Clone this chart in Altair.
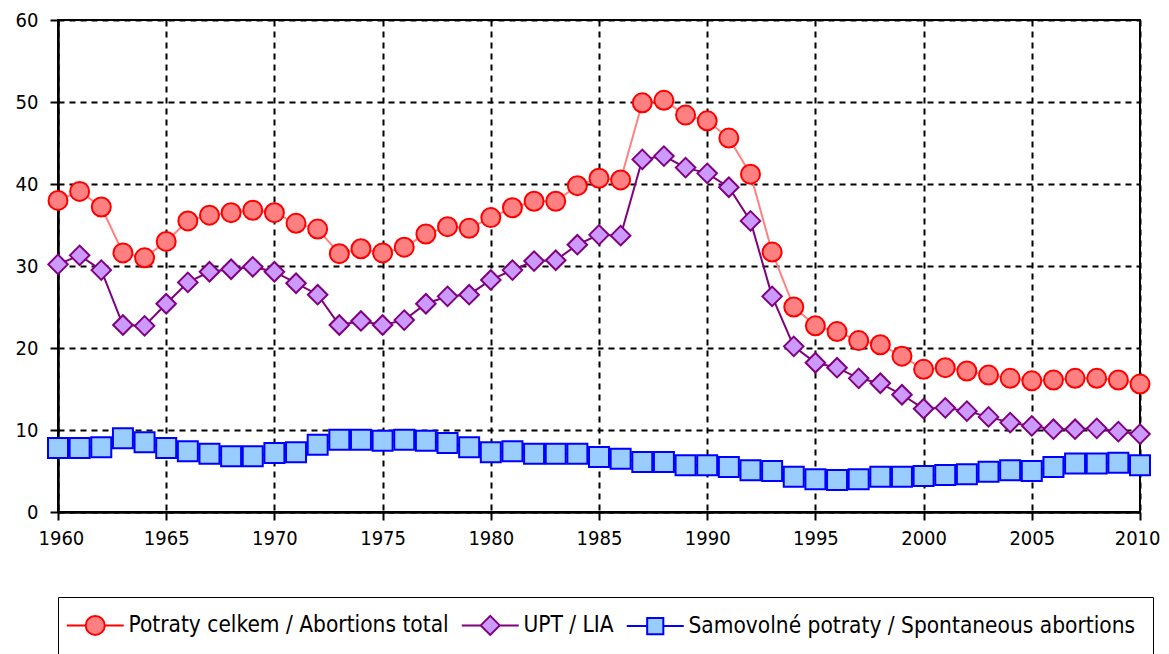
import altair as alt
import pandas as pd

years = list(range(1960, 2011))

total = [38.0, 39.1, 37.2, 31.6, 31.0, 33.0, 35.5, 36.2, 36.5, 36.8,
         36.5, 35.2, 34.5, 31.5, 32.1, 31.6, 32.3, 33.9, 34.8, 34.6,
         35.9, 37.1, 37.9, 37.9, 39.8, 40.7, 40.5, 49.9, 50.2, 48.4,
         47.7, 45.6, 41.2, 31.7, 25.0, 22.7, 22.0, 20.9, 20.4, 19.0,
         17.4, 17.6, 17.2, 16.7, 16.3, 16.0, 16.1, 16.3, 16.3, 16.1, 15.6]

lia = [30.2, 31.3, 29.5, 22.8, 22.7, 25.4, 28.0, 29.3, 29.6, 29.9,
       29.3, 27.9, 26.5, 22.8, 23.3, 22.8, 23.4, 25.4, 26.3, 26.5,
       28.3, 29.5, 30.6, 30.7, 32.6, 33.8, 33.7, 43.0, 43.4, 42.0,
       41.3, 39.6, 35.5, 26.3, 20.2, 18.2, 17.6, 16.3, 15.7, 14.3,
       12.6, 12.7, 12.3, 11.6, 10.9, 10.5, 10.1, 10.1, 10.2, 9.8, 9.5]

spont = [7.8, 7.8, 7.9, 9.0, 8.5, 7.8, 7.4, 7.1, 6.8, 6.8,
         7.2, 7.3, 8.2, 8.8, 8.8, 8.7, 8.8, 8.7, 8.4, 7.9,
         7.3, 7.4, 7.1, 7.1, 7.1, 6.7, 6.5, 6.1, 6.1, 5.7,
         5.7, 5.5, 5.1, 5.0, 4.3, 4.0, 3.9, 4.0, 4.3, 4.3,
         4.4, 4.5, 4.6, 4.9, 5.1, 5.0, 5.5, 5.9, 5.9, 6.0, 5.7]

series_names = ["Potraty celkem / Abortions total", "UPT / LIA",
                "Samovolné potraty / Spontaneous abortions"]
line_colors = ["#FF8080", "#800080", "#0000FF"]
fill_colors = ["#FF8080", "#CC99FF", "#99CCFF"]
stroke_colors = ["#FF0000", "#800080", "#0000FF"]
plot_shapes = ["circle", "diamond", "square"]
plot_sizes = [361, 400, 300]

x_ticks = list(range(1960, 2011, 5))
y_ticks = list(range(0, 61, 10))

rows = []
for name, vals in zip(series_names, [total, lia, spont]):
    for yr, v in zip(years, vals):
        rows.append({"year": yr, "value": v, "series": name})
df = pd.DataFrame(rows)

FONT = "DejaVu Sans Condensed, Liberation Sans Narrow, Liberation Sans"

# legend symbols: line stubs with marker in the middle
circ = ("M-3,0L-1,0M1,0L3,0"
        "M-1,0C-1,-0.5523,-0.5523,-1,0,-1C0.5523,-1,1,-0.5523,1,0"
        "C1,0.5523,0.5523,1,0,1C-0.5523,1,-1,0.5523,-1,0Z")
diam = "M-3,0L-1,0M1,0L3,0M-1,0L0,-1L1,0L0,1Z"
sq = "M-3,0L-0.85,0M0.85,0L3,0M-0.85,-0.85L0.85,-0.85L0.85,0.85L-0.85,0.85Z"
legend_shapes = [circ, diam, sq]

x_enc = alt.X("year:Q",
              scale=alt.Scale(domain=[1960, 2010], nice=False, zero=False),
              axis=alt.Axis(values=x_ticks, format="d", title=None,
                            labelFlush=True, labelFlushOffset=20))
y_enc = alt.Y("value:Q",
              scale=alt.Scale(domain=[0, 60], nice=False),
              axis=alt.Axis(values=y_ticks, title=None, labelFlush=False))

base = alt.Chart(df)

lines = base.mark_line(strokeWidth=2).encode(
    x=x_enc, y=y_enc,
    color=alt.Color("series:N",
                    scale=alt.Scale(domain=series_names, range=line_colors),
                    legend=None),
)

points = base.mark_point(filled=True, strokeWidth=2, opacity=1).encode(
    x=x_enc, y=y_enc,
    shape=alt.Shape("series:N",
                    scale=alt.Scale(domain=series_names, range=plot_shapes),
                    legend=None),
    fill=alt.Fill("series:N",
                  scale=alt.Scale(domain=series_names, range=fill_colors),
                  legend=None),
    stroke=alt.Stroke("series:N",
                      scale=alt.Scale(domain=series_names, range=stroke_colors),
                      legend=None),
    size=alt.Size("series:N",
                  scale=alt.Scale(domain=series_names, range=plot_sizes),
                  legend=None),
)

leg = alt.Legend(
    title=None, orient="none", legendX=0, legendY=577,
    direction="horizontal", strokeColor="black", padding=17,
    labelFont=FONT, labelFontSize=22.5, labelColor="black", labelLimit=600,
    symbolSize=361, symbolStrokeWidth=2, symbolOpacity=1,
    symbolOffset=9, labelOffset=22, columnPadding=8,
)

legend_layer = base.mark_point(filled=True, opacity=0, strokeWidth=2).encode(
    x=x_enc, y=y_enc,
    shape=alt.Shape("series:N",
                    scale=alt.Scale(domain=series_names, range=legend_shapes),
                    legend=leg),
    fill=alt.Fill("series:N",
                  scale=alt.Scale(domain=series_names, range=fill_colors),
                  legend=leg),
    stroke=alt.Stroke("series:N",
                      scale=alt.Scale(domain=series_names, range=stroke_colors),
                      legend=leg),
)

chart = alt.layer(lines, points, legend_layer).resolve_scale(
    shape="independent", fill="independent", stroke="independent"
).properties(
    width=1082, height=492,
    autosize=alt.AutoSizeParams(type="none"),
    padding={"left": 50, "top": 12, "right": 21, "bottom": 160},
).configure_view(
    stroke="black", strokeWidth=2
).configure_axis(
    labelFont=FONT, labelFontSize=20, labelColor="black",
    domainColor="black", domainWidth=2.5,
    tickColor="black", tickWidth=2, tickSize=8,
    grid=True, gridColor="black", gridWidth=2, gridDash=[6, 5], gridOpacity=1,
).configure_axisY(
    labelPadding=12
).configure_axisX(
    labelPadding=8
)

chart.save("out.html", embed_options={"renderer": "svg", "actions": False})
